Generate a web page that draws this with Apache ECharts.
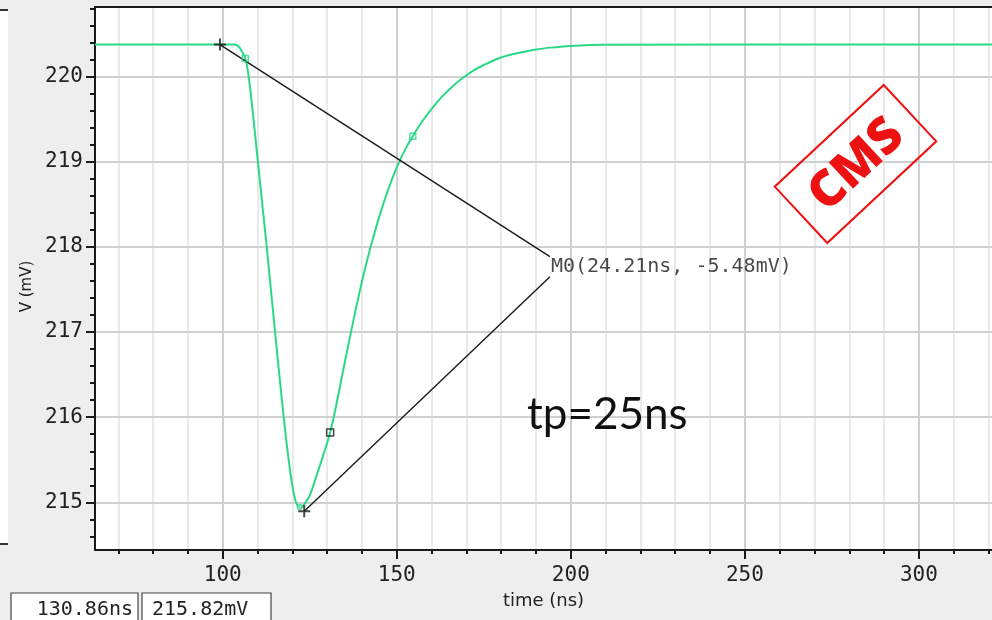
<!DOCTYPE html>
<html><head><meta charset="utf-8">
<script src="https://cdn.jsdelivr.net/npm/echarts@6/dist/echarts.min.js"></script>
<style>html,body{margin:0;padding:0;background:#eeeeee}#c{width:992px;height:620px}</style>
</head><body><div id="c"></div>
<script>
// ---- data ----
const timeNs = [63.3, 103.0, 104.0, 105.0, 105.8, 106.5, 107.2, 108.0, 108.8, 109.42, 110.43, 111.43, 112.44, 113.36, 114.22, 115.17, 116.11, 117.09, 118.12, 119.33, 120.2, 120.9, 121.5, 122.2, 123.0, 123.8, 125.0, 127.0, 129.0, 130.86, 132.5, 134.5, 136.5, 138.5, 140.5, 142.5, 144.5, 146.5, 148.5, 150.5, 152.5, 154.6, 157.0, 160.0, 163.0, 166.0, 169.0, 172.0, 175.0, 179.6, 184.5, 189.2, 194.0, 202.6, 208.4, 321];
const voltMv = [220.375, 220.375, 220.37, 220.33, 220.27, 220.21, 220.07, 219.82, 219.51, 219.268, 218.869, 218.471, 218.080, 217.693, 217.341, 216.945, 216.554, 216.167, 215.771, 215.380, 215.15, 215.02, 214.965, 214.942, 214.955, 215.0, 215.08, 215.32, 215.57, 215.82, 216.12, 216.53, 216.93, 217.32, 217.68, 218.00, 218.29, 218.55, 218.78, 218.98, 219.15, 219.30, 219.454, 219.619, 219.763, 219.883, 219.985, 220.069, 220.135, 220.218, 220.272, 220.31, 220.339, 220.365, 220.373, 220.375];
const xMajorTicks = [100, 150, 200, 250, 300];
const xMinorTicks = [70, 80, 90, 110, 120, 130, 140, 160, 170, 180, 190, 210, 220, 230, 240, 260, 270, 280, 290, 310, 320];
const yMajorTicks = [215, 216, 217, 218, 219, 220];
const yMinorTicks = [214.6, 214.8, 215.2, 215.4, 215.6, 215.8, 216.2, 216.4, 216.6, 216.8, 217.2, 217.4, 217.6, 217.8, 218.2, 218.4, 218.6, 218.8, 219.2, 219.4, 219.6, 219.8, 220.2, 220.4, 220.6, 220.8];
const crossMarkers = [[99.2, 220.375], [123.41, 214.895]];
const leaderEnds = [[194.0, 217.885], [194.0, 217.65]];
const m0LabelAnchor = [[194.0, 217.77]];
const m0LabelText = 'M0(24.21ns, -5.48mV)';
const greenSquares = [[106.5, 220.21], [154.6, 219.30]];
const readoutPoint = [[130.86, 215.82]];
const minDot = [[122.1, 214.945]];
const readoutTexts = ['130.86ns', '215.82mV'];
const annotationText = 'tp=25ns';
const stampText = 'CMS';

const xMin = 63.3, xMax = 321, yMin = 214.441, yMax = 220.816;
const AX = '#1a1a1a', GREEN = '#2bd886';
const MAJOR_GRID = '#d0d0d0', MINOR_GRID = '#eaeaea';
const mono = 'DejaVu Sans Mono';

const curve = timeNs.map((t, i) => [t, voltMv[i]]);
const plusPath = 'path://M5,0 H7 V5 H12 V7 H7 V12 H5 V7 H0 V5 H5 Z';

const chart = echarts.init(document.getElementById('c'), null, {renderer: 'canvas'});
chart.setOption({
  backgroundColor: '#eeeeee',
  animation: false,
  grid: {left: 95, top: 7, right: 0, bottom: 70, show: true, backgroundColor: '#ffffff', borderWidth: 0},
  xAxis: [
    {type: 'value', min: xMin, max: xMax, position: 'bottom', z: 1,
     axisLine: {show: false}, axisLabel: {show: false},
     axisTick: {show: true, customValues: xMinorTicks, length: 4, lineStyle: {color: AX, width: 2}},
     splitLine: {show: true, lineStyle: {color: MINOR_GRID, width: 2}}},
    {type: 'value', min: xMin, max: xMax, position: 'bottom', z: 2,
     axisLine: {show: true, onZero: false, lineStyle: {color: AX, width: 2}},
     axisTick: {show: true, customValues: xMajorTicks, length: 9, lineStyle: {color: AX, width: 2}},
     axisLabel: {customValues: xMajorTicks, margin: 15, fontFamily: mono, fontSize: 21, color: '#222'},
     splitLine: {show: true, lineStyle: {color: MAJOR_GRID, width: 2}},
     name: 'time (ns)', nameLocation: 'middle', nameGap: 42,
     nameTextStyle: {fontFamily: 'DejaVu Sans', fontSize: 18, color: '#222'}},
    {type: 'value', min: xMin, max: xMax, position: 'top', z: 2,
     axisLine: {show: true, onZero: false, lineStyle: {color: AX, width: 2}},
     axisTick: {show: false}, axisLabel: {show: false}, splitLine: {show: false}}
  ],
  yAxis: [
    {type: 'value', min: yMin, max: yMax, position: 'right', z: 1,
     axisLine: {show: false}, axisLabel: {show: false}, axisTick: {show: false},
     splitLine: {show: true, lineStyle: {color: MINOR_GRID, width: 2}}},
    {type: 'value', min: yMin, max: yMax, position: 'left', z: 1,
     axisLine: {show: false}, axisLabel: {show: false},
     axisTick: {show: true, customValues: yMinorTicks, length: 5, lineStyle: {color: AX, width: 2}},
     splitLine: {show: false}},
    {type: 'value', min: yMin, max: yMax, position: 'left', z: 2,
     axisLine: {show: true, onZero: false, lineStyle: {color: AX, width: 2}},
     axisTick: {show: true, customValues: yMajorTicks, length: 9, lineStyle: {color: AX, width: 2}},
     axisLabel: {customValues: yMajorTicks, margin: 12, fontFamily: mono, fontSize: 21, color: '#222'},
     splitLine: {show: true, lineStyle: {color: MAJOR_GRID, width: 2}},
     name: 'V (mV)', nameLocation: 'middle', nameGap: 57,
     nameTextStyle: {fontFamily: 'DejaVu Sans', fontSize: 15, color: '#222', padding: [0, 16, 0, 0]}}
  ],
  series: [
    {type: 'line', xAxisIndex: 1, yAxisIndex: 2, data: curve, smooth: 0.3, symbol: 'none', z: 3,
     lineStyle: {color: GREEN, width: 2}},
    {type: 'line', xAxisIndex: 1, yAxisIndex: 2, data: [crossMarkers[0], leaderEnds[0]], symbol: 'none', z: 4,
     lineStyle: {color: '#1a1a1a', width: 1.4}},
    {type: 'line', xAxisIndex: 1, yAxisIndex: 2, data: [crossMarkers[1], leaderEnds[1]], symbol: 'none', z: 4,
     lineStyle: {color: '#1a1a1a', width: 1.4}},
    {type: 'scatter', xAxisIndex: 1, yAxisIndex: 2, data: greenSquares, symbol: 'rect', symbolSize: 6, z: 5,
     itemStyle: {color: 'rgba(255,255,255,0)', borderColor: GREEN, borderWidth: 1.5}},
    {type: 'scatter', xAxisIndex: 1, yAxisIndex: 2, data: minDot, symbol: 'circle', symbolSize: 5, z: 5,
     itemStyle: {color: '#8fe8bb', borderColor: GREEN, borderWidth: 1.2}},
    {type: 'scatter', xAxisIndex: 1, yAxisIndex: 2, data: readoutPoint, symbol: 'rect', symbolSize: 7, z: 5,
     itemStyle: {color: 'rgba(255,255,255,0)', borderColor: '#1a1a1a', borderWidth: 1.5}},
    {type: 'scatter', xAxisIndex: 1, yAxisIndex: 2, data: crossMarkers, symbol: plusPath, symbolSize: 12, z: 6,
     itemStyle: {color: '#1a1a1a'}},
    {type: 'scatter', xAxisIndex: 1, yAxisIndex: 2, data: m0LabelAnchor, symbolSize: 0, z: 6,
     label: {show: true, position: 'right', distance: 1, formatter: m0LabelText,
             fontFamily: mono, fontSize: 20, color: '#1a1a1a'}}
  ],
  graphic: [
    {type: 'rect', z: 10, shape: {x: 0, y: 10, width: 8, height: 534}, style: {fill: '#ffffff'}},
    {type: 'line', z: 10, shape: {x1: 0, y1: 10, x2: 8, y2: 10}, style: {stroke: '#333', lineWidth: 2}},
    {type: 'line', z: 10, shape: {x1: 0, y1: 544, x2: 8, y2: 544}, style: {stroke: '#333', lineWidth: 2}},
    {type: 'rect', z: 10, shape: {x: 11, y: 593, width: 127, height: 30}, style: {fill: '#ffffff', stroke: '#444', lineWidth: 1.2}},
    {type: 'rect', z: 10, shape: {x: 142, y: 593, width: 129, height: 30}, style: {fill: '#ffffff', stroke: '#444', lineWidth: 1.2}},
    {type: 'text', z: 11, x: 133, y: 610, style: {text: readoutTexts[0], font: '20px "DejaVu Sans Mono"', fill: '#222', textAlign: 'right', textVerticalAlign: 'middle'}},
    {type: 'text', z: 11, x: 152, y: 610, style: {text: readoutTexts[1], font: '20px "DejaVu Sans Mono"', fill: '#222', textAlign: 'left', textVerticalAlign: 'middle'}},
    {type: 'text', z: 11, x: 527, y: 415, style: {text: annotationText, font: '44px Lato', fill: '#111', textAlign: 'left', textVerticalAlign: 'middle'}},
    {type: 'group', z: 11, x: 855.5, y: 164, rotation: 43 * Math.PI / 180, children: [
      {type: 'rect', z: 11, shape: {x: -74.5, y: -38.5, width: 149, height: 77}, style: {fill: 'rgba(255,255,255,0)', stroke: '#ee1111', lineWidth: 2}},
      {type: 'text', z: 12, x: 0, y: 2, style: {text: stampText, font: '800 50px "Open Sans"', fill: '#ee1111', textAlign: 'center', textVerticalAlign: 'middle'}}
    ]}
  ]
});
</script></body></html>
